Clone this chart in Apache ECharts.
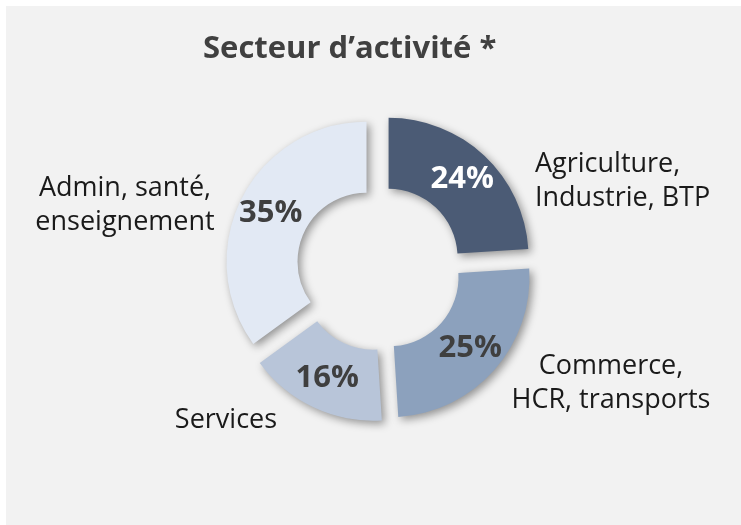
<!DOCTYPE html>
<html>
<head>
<meta charset="utf-8">
<script src="https://cdn.jsdelivr.net/npm/echarts@6/dist/echarts.min.js"></script>
<style>
    html, body { margin: 0; padding: 0; background: #ffffff; }
    #chart { width: 741px; height: 525px; }
</style>
</head>
<body>
<div id="chart"></div>
<script>
var categories = ['Agriculture,\nIndustrie, BTP', 'Commerce,\nHCR, transports', 'Services', 'Admin, santé,\nenseignement'];
var shares = [24, 25, 16, 35];

var sliceColors = ['#4b5b75', '#8ca1bd', '#b8c5d9', '#e2e9f4'];
var pctColors = ['#ffffff', '#3f3f3f', '#3f3f3f', '#3f3f3f'];
// where the category names sit (x, y, align)
var namePos = [[535, 181, 'left'], [611, 383, 'center'], [226, 420, 'center'], [125, 205, 'center']];

var chart = echarts.init(document.getElementById('chart'));

var sliceData = [];
var nameData = [];
for (var i = 0; i < shares.length; i++) {
    sliceData.push({
        name: categories[i],
        value: shares[i],
        selected: true,
        itemStyle: { color: sliceColors[i] },
        select: { itemStyle: { color: sliceColors[i] } },
        label: { color: pctColors[i] }
    });
    nameData.push({ name: categories[i], value: shares[i] });
}

var option = {
    animation: false,
    graphic: [
        {
            type: 'rect',
            z: -10,
            shape: { x: 6, y: 6, width: 735, height: 519 },
            style: { fill: '#f2f2f2' }
        }
    ],
    title: {
        text: 'Secteur d’activité *',
        left: 198,
        top: 29,
        textStyle: {
            fontFamily: 'Open Sans',
            fontWeight: 'bold',
            fontSize: 31,
            color: '#404040'
        }
    },
    series: [
        {
            type: 'pie',
            center: [379, 268],
            radius: [69, 140],
            startAngle: 90,
            selectedMode: 'multiple',
            selectedOffset: 14,
            silent: true,
            emphasis: { disabled: true },
            itemStyle: {
                borderWidth: 0,
                shadowBlur: 8,
                shadowOffsetX: 3,
                shadowOffsetY: 3,
                shadowColor: 'rgba(0,0,0,0.4)'
            },
            select: {
                itemStyle: {
                    borderWidth: 0,
                    shadowBlur: 8,
                    shadowOffsetX: 3,
                    shadowOffsetY: 3,
                    shadowColor: 'rgba(0,0,0,0.4)'
                }
            },
            label: {
                show: true,
                position: 'inside',
                formatter: '{c}%',
                fontFamily: 'Open Sans',
                fontWeight: 'bold',
                fontSize: 31
            },
            labelLine: { show: false },
            data: sliceData
        },
        {
            type: 'pie',
            center: [379, 268],
            radius: [69, 140],
            startAngle: 90,
            silent: true,
            z: 5,
            emphasis: { disabled: true },
            itemStyle: { color: 'rgba(0,0,0,0)' },
            label: {
                show: true,
                position: 'outside',
                formatter: '{b}',
                fontFamily: 'Open Sans',
                fontSize: 27,
                lineHeight: 34,
                color: '#1a1a1a'
            },
            labelLine: { show: false },
            labelLayout: function (params) {
                var p = namePos[params.dataIndex];
                return { x: p[0], y: p[1], align: p[2], verticalAlign: 'middle' };
            },
            data: nameData
        }
    ]
};
chart.setOption(option);
</script>
</body>
</html>
